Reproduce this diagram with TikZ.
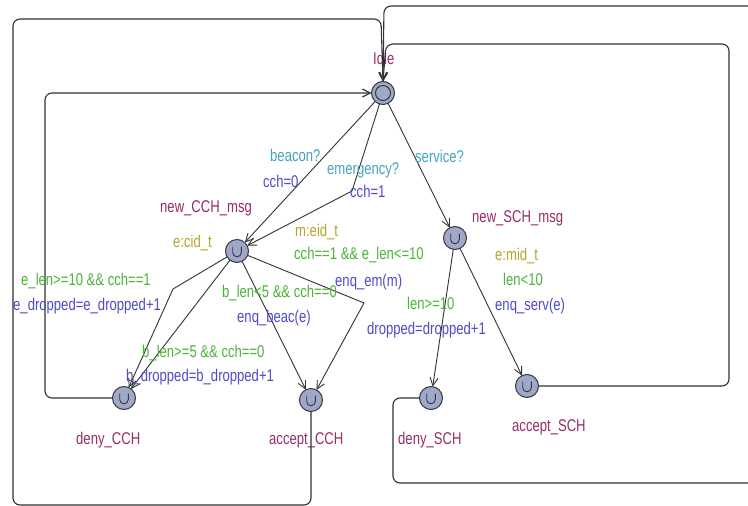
\documentclass[tikz,border=0pt]{standalone}
\usepackage{fontspec}
\setmainfont{Liberation Sans}[FakeStretch=0.77]
\usetikzlibrary{arrows.meta}
\definecolor{locname}{RGB}{150,45,105}
\definecolor{sync}{RGB}{70,165,190}
\definecolor{upd}{RGB}{80,75,200}
\definecolor{grd}{RGB}{75,180,55}
\definecolor{sel}{RGB}{180,165,45}
\definecolor{locfill}{RGB}{160,168,200}
\definecolor{locline}{RGB}{55,55,65}
\definecolor{edgeline}{RGB}{50,50,50}
\begin{document}
\begin{tikzpicture}[x=1pt,y=-1pt,
  every node/.style={font=\fontsize{17}{20}\selectfont},
  loc/.style={circle, draw=locline, fill=locfill, line width=1pt,
    minimum size=23pt, inner sep=0pt, outer sep=0pt},
  urgentloc/.style={loc, path picture={\draw[locline,line width=0.9pt]
    ([xshift=-4.3pt,yshift=4.5pt]path picture bounding box.center)
    -- ++(0pt,-6pt) arc[start angle=180,end angle=360,radius=4.3pt]
    -- ++(0pt,6pt);}},
  initloc/.style={loc, path picture={\draw[locline,line width=1pt]
    (path picture bounding box.center) circle[radius=7.5pt];}},
  lbl/.style={anchor=west, inner sep=0pt, text height=12pt, text depth=3.5pt},
  locname/.style={lbl, text=locname},
  synlbl/.style={lbl, text=sync},
  updlbl/.style={lbl, text=upd},
  grdlbl/.style={lbl, text=grd},
  sellbl/.style={lbl, text=sel},
  trans/.style={draw=edgeline, line width=0.9pt,
    -{Straight Barb[length=8pt,width=8pt]}},
  loopline/.style={trans, line width=1.1pt, rounded corners=7pt}]

\useasboundingbox (0,0) rectangle (748,506);
\clip (0,0) rectangle (748,506);
\fill[white] (0,0) rectangle (748,506);

% locations
\node[initloc] (Idle) at (383,93) {};
\node[urgentloc] (newCCH) at (237,251) {};
\node[urgentloc] (newSCH) at (455,238) {};
\node[urgentloc] (denyCCH) at (124,398) {};
\node[urgentloc] (acceptCCH) at (311,400) {};
\node[urgentloc] (denySCH) at (431,398) {};
\node[urgentloc] (acceptSCH) at (527,386) {};

% location names
\node[locname] (nIdle) at (373,60) {Idle};
\node[locname] (nNewCCH) at (160,208) {new\_CCH\_msg};
\node[locname] (nNewSCH) at (472,218) {new\_SCH\_msg};
\node[locname] (nDenyCCH) at (76,440) {deny\_CCH};
\node[locname] (nAcceptCCH) at (269,440) {accept\_CCH};
\node[locname] (nDenySCH) at (398,440) {deny\_SCH};
\node[locname] (nAcceptSCH) at (512,427) {accept\_SCH};

% nails
\coordinate (nailEm) at (352,191);
\coordinate (nailEdrop) at (173,289);
\coordinate (nailEnq) at (364,303);

% edges out of Idle
\draw[trans] (Idle) -- (newCCH);
\draw[trans] (Idle) -- (nailEm) -- (newCCH);
\draw[trans] (Idle) -- (newSCH);

% edges out of new_CCH_msg
\draw[trans] (newCCH) -- (nailEdrop) -- (denyCCH);
\draw[trans] (newCCH) -- (denyCCH);
\draw[trans] (newCCH) -- (acceptCCH);
\draw[trans] (newCCH) -- (nailEnq) -- (acceptCCH);

% edges out of new_SCH_msg
\draw[trans] (newSCH) -- (denySCH);
\draw[trans] (newSCH) -- (acceptSCH);

% return edges back to Idle
\draw[loopline] (denyCCH.west) -- (45,398) -- (45,93) -- (Idle.west);
\draw[loopline] (acceptCCH.south) -- (311,505) -- (13,505) -- (13,19)
  -- (381,19) -- (Idle.north);
\draw[loopline] (acceptSCH.east) -- (729,386) -- (729,44) -- (386,44)
  -- (Idle.north);
\draw[loopline] (denySCH.west) -- (393,398) -- (393,483) -- (775,483)
  -- (775,6) -- (384,6) -- (Idle.north);

% edge labels
\node[synlbl] (lBeacon) at (270,157) {beacon?};
\node[updlbl] (uBeacon) at (263,183) {cch=0};
\node[synlbl] (lEmerg) at (327,170) {emergency?};
\node[updlbl] (uEmerg) at (350,193) {cch=1};
\node[synlbl] (lServ) at (415,158) {service?};

\node[sellbl] (sCid) at (173,243) {e:cid\_t};
\node[sellbl] (sEid) at (295,232) {m:eid\_t};
\node[grdlbl] (gEnqEm) at (294,255) {cch==1 \&\& e\_len<=10};
\node[updlbl] (uEnqEm) at (335,282) {enq\_em(m)};
\node[grdlbl] (gBeac) at (222,293) {b\_len<5 \&\& cch==0};
\node[updlbl] (uBeac) at (237,318) {enq\_beac(e)};
\node[grdlbl] (gEdrop) at (21,281) {e\_len>=10 \&\& cch==1};
\node[updlbl] (uEdrop) at (13,306) {e\_dropped=e\_dropped+1};
\node[grdlbl] (gBdrop) at (142,353) {b\_len>=5 \&\& cch==0};
\node[updlbl] (uBdrop) at (126,377) {b\_dropped=b\_dropped+1};

\node[sellbl] (sMid) at (495,256) {e:mid\_t};
\node[grdlbl] (gServ) at (503,281) {len<10};
\node[updlbl] (uServ) at (495,306) {enq\_serv(e)};
\node[grdlbl] (gDrop) at (407,305) {len>=10};
\node[updlbl] (uDrop) at (367,330) {dropped=dropped+1};
\end{tikzpicture}
\end{document}
